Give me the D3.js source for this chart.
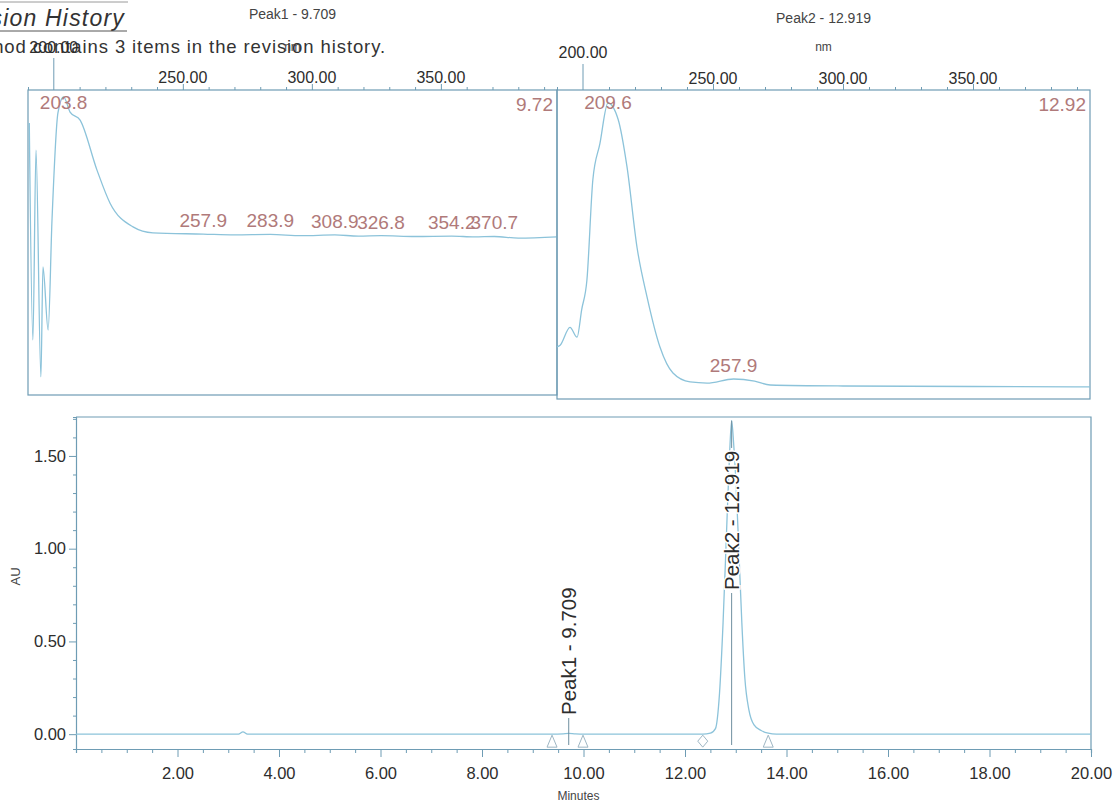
<!DOCTYPE html>
<html>
<head>
<meta charset="utf-8">
<script src="https://cdn.jsdelivr.net/npm/d3@7"></script>
<style>
  body { margin: 0; background: #fff; }
  svg { display: block; font-family: "Liberation Sans", Arial, sans-serif; }
</style>
</head>
<body>
<svg id="chart" width="1118" height="805"></svg>
<script>
// ---- Chromatogram (AU vs. minutes) ----
const chromTime = [0, 3.20, 3.29, 3.38, 9.40, 9.60, 9.709, 9.82, 10.00,
  12.35, 12.50, 12.60, 12.68, 12.75, 12.82, 12.88, 12.919, 12.96, 13.00,
  13.06, 13.12, 13.18, 13.26, 13.36, 13.50, 13.64, 13.80, 20.00];
const chromAU = [0, 0, 0.012, 0, 0, 0.002, 0.004, 0.002, 0,
  0, 0.005, 0.03, 0.22, 0.60, 1.10, 1.52, 1.69, 1.56, 1.38,
  1.00, 0.60, 0.30, 0.13, 0.05, 0.02, 0.005, 0, 0];

// Integrated peaks
const peakNames = ["Peak1", "Peak2"];
const peakRT = [9.709, 12.919];
const peakApexAU = [0.004, 1.69];

// Integration start / end marks on the baseline
const markTimes = [9.38, 9.99, 12.35, 13.64];
const markShapes = ["triangle", "triangle", "diamond", "triangle"];

const timeTicks = [2, 4, 6, 8, 10, 12, 14, 16, 18, 20];
const auTicks = [0, 0.5, 1.0, 1.5];

// ---- UV spectra at the two peak apexes ----
const spec1Nm = [190.5, 191.9, 193.1, 195.0, 195.8, 197.8, 199.3, 201.6, 203.8, 206.3,
  210.2, 216.7, 221.8, 230.7, 238.4, 257.9, 270, 283.9, 296, 308.9, 318, 326.8,
  340, 354.2, 363, 370.7, 380, 395];
const spec1MilliAU = [2.78, -2.63, 2.10, -3.55, -0.81, -2.38, 0.36, 3.03, 3.43, 3.05,
  2.85, 1.61, 0.78, 0.19, 0.04, 0.01, -0.01, 0.00, -0.03, -0.01, -0.04, -0.03,
  -0.05, -0.04, -0.06, -0.05, -0.09, -0.06];
const spec1Maxima = [203.8, 257.9, 283.9, 308.9, 326.8, 354.2, 370.7];

const spec2Nm = [190.0, 191.2, 195.0, 197.7, 199.5, 201.5, 203.8, 206.5, 209.6, 213.5,
  216.9, 220.8, 224.6, 229.6, 234.6, 241.2, 247.7, 257.9, 266, 272, 300, 350, 395];
const spec2AU = [0.27, 0.28, 0.39, 0.33, 0.50, 0.68, 1.30, 1.52, 1.77, 1.67,
  1.38, 0.88, 0.58, 0.27, 0.11, 0.055, 0.048, 0.073, 0.06, 0.036, 0.03, 0.027, 0.024];
const spec2Maxima = [209.6, 257.9];

const specTitles = ["Peak1 - 9.709", "Peak2 - 12.919"];
const specRT = ["9.72", "12.92"];
const nmTicks = [200, 250, 300, 350];

// ---- styling ----
const FRAME = "#6e9cb4";
const TRACE = "#8cc3da";
const MAXLBL = "#b07a7a";
const TEXT = "#2d2d2d";

const svg = d3.select("#chart");

// ---- report header (partially cut at the page edge) ----
svg.append("line").attr("x1", 0).attr("x2", 128).attr("y1", 2).attr("y2", 2)
  .attr("stroke", "#9a9a9a").attr("stroke-width", 1);
svg.append("text").attr("x", 125).attr("y", 26).attr("text-anchor", "end")
  .attr("font-size", 23).attr("font-style", "italic").attr("letter-spacing", 1.2)
  .attr("fill", "#333").text("Revision History");
svg.append("line").attr("x1", 0).attr("x2", 127).attr("y1", 31).attr("y2", 31)
  .attr("stroke", "#555").attr("stroke-width", 1);
svg.append("text").attr("x", 386).attr("y", 53).attr("text-anchor", "end")
  .attr("font-size", 18.5).attr("letter-spacing", 0.9).attr("fill", "#333")
  .text("This method contains 3 items in the revision history.");

// ---- spectrum panels ----
function drawSpectrum(cfg) {
  const g = svg.append("g");
  const x = d3.scaleLinear().domain([190, 395]).range([cfg.x0, cfg.x1]);
  const y = d3.scaleLinear().domain(cfg.yDomain).range([cfg.y1, cfg.y0]);

  // frame
  g.append("rect").attr("x", cfg.x0).attr("y", cfg.y0)
    .attr("width", cfg.x1 - cfg.x0).attr("height", cfg.y1 - cfg.y0)
    .attr("fill", "none").attr("stroke", FRAME).attr("stroke-width", 1.2);

  // top axis: minor ticks every 10 nm, majors every 50 nm
  const minor = d3.range(190, 395, 10).filter(v => v % 50 !== 0);
  g.append("g").attr("transform", `translate(0,${cfg.y0})`)
    .call(d3.axisTop(x).tickValues(minor).tickSize(3).tickFormat(""))
    .call(a => a.select(".domain").remove())
    .call(a => a.selectAll("line").attr("stroke", FRAME));
  g.append("g").attr("transform", `translate(0,${cfg.y0})`)
    .call(d3.axisTop(x).tickValues(nmTicks.slice(1)).tickSize(6).tickFormat(""))
    .call(a => a.select(".domain").remove())
    .call(a => a.selectAll("line").attr("stroke", FRAME));
  // first major tick is drawn long, its label staggered on the upper row
  g.append("line").attr("x1", x(nmTicks[0])).attr("x2", x(nmTicks[0]))
    .attr("y1", cfg.y0).attr("y2", cfg.longTickTop)
    .attr("stroke", FRAME).attr("stroke-width", 1);
  g.selectAll("text.tk").data(nmTicks).join("text").attr("class", "tk")
    .attr("x", d => x(d)).attr("y", (d, i) => i === 0 ? cfg.upperRowY : cfg.lowerRowY)
    .attr("text-anchor", "middle").attr("font-size", 16).attr("fill", TEXT)
    .text(d => d3.format(".2f")(d));
  g.append("text").attr("x", (cfg.x0 + cfg.x1) / 2).attr("y", cfg.nmY)
    .attr("text-anchor", "middle").attr("font-size", 12).attr("fill", "#444").text("nm");
  g.append("text").attr("x", (cfg.x0 + cfg.x1) / 2).attr("y", cfg.titleY)
    .attr("text-anchor", "middle").attr("font-size", 14).attr("fill", "#444").text(cfg.title);

  // spectrum trace
  const line = d3.line().x((d, i) => x(cfg.nm[i])).y(d => y(d)).curve(d3.curveMonotoneX);
  g.append("path").attr("d", line(cfg.vals)).attr("fill", "none")
    .attr("stroke", TRACE).attr("stroke-width", 1.3);

  // maxima labels
  g.selectAll("text.mx").data(cfg.maxima).join("text").attr("class", "mx")
    .attr("x", d => x(d))
    .attr("y", d => Math.max(y(cfg.vals[cfg.nm.indexOf(d)]) - 7, cfg.y0 + 19))
    .attr("text-anchor", "middle").attr("font-size", 19).attr("fill", MAXLBL)
    .text(d => d.toFixed(1));

  // retention time of the spectrum
  g.append("text").attr("x", cfg.x1 - 4).attr("y", cfg.y0 + 21)
    .attr("text-anchor", "end").attr("font-size", 19).attr("fill", MAXLBL).text(cfg.rt);
}

drawSpectrum({
  x0: 28, x1: 557, y0: 90, y1: 395, yDomain: [-4.0, 3.6],
  nm: spec1Nm, vals: spec1MilliAU, maxima: spec1Maxima,
  title: specTitles[0], rt: specRT[0], titleY: 19,
  upperRowY: 53, lowerRowY: 83, nmY: 51, longTickTop: 58
});
drawSpectrum({
  x0: 557, x1: 1090, y0: 90, y1: 399, yDomain: [-0.05, 1.85],
  nm: spec2Nm, vals: spec2AU, maxima: spec2Maxima,
  title: specTitles[1], rt: specRT[1], titleY: 23,
  upperRowY: 58, lowerRowY: 84, nmY: 51, longTickTop: 64
});

// ---- chromatogram ----
const cx = d3.scaleLinear().domain([0, 20]).range([76, 1091]);
const cy = d3.scaleLinear().domain([-0.08, 1.71]).range([749, 417]);
const cg = svg.append("g");

// frame (top / right)
cg.append("path")
  .attr("d", `M${cx(0)},${cy(1.71)}H${cx(20)}V${cy(-0.08)}`)
  .attr("fill", "none").attr("stroke", FRAME).attr("stroke-width", 1.2);

// x axis
cg.append("g").attr("transform", `translate(0,${cy(-0.08)})`)
  .call(d3.axisBottom(cx).tickValues(d3.range(0.5, 20, 0.5).filter(v => v % 2 !== 0))
    .tickSize(4).tickFormat(""))
  .call(a => a.select(".domain").attr("stroke", FRAME).attr("stroke-width", 1.2))
  .call(a => a.selectAll("line").attr("stroke", FRAME));
cg.append("g").attr("transform", `translate(0,${cy(-0.08)})`)
  .call(d3.axisBottom(cx).tickValues(timeTicks).tickSize(8).tickPadding(10)
    .tickFormat(d3.format(".2f")))
  .call(a => a.select(".domain").remove())
  .call(a => a.selectAll("line").attr("stroke", FRAME))
  .call(a => a.selectAll("text").attr("font-size", 16.5).attr("fill", TEXT)
    .attr("font-family", "Liberation Sans, Arial, sans-serif"));
cg.append("text").attr("x", cx(9.9)).attr("y", 800).attr("text-anchor", "middle")
  .attr("font-size", 12).attr("fill", "#444").text("Minutes");

// y axis
cg.append("g").attr("transform", `translate(${cx(0)},0)`)
  .call(d3.axisLeft(cy).tickValues(d3.range(-0.0, 1.71, 0.1).filter(v => Math.abs(v * 2 - Math.round(v * 2)) > 1e-6))
    .tickSize(3).tickFormat(""))
  .call(a => a.select(".domain").attr("stroke", FRAME).attr("stroke-width", 1.2))
  .call(a => a.selectAll("line").attr("stroke", FRAME));
cg.append("g").attr("transform", `translate(${cx(0)},0)`)
  .call(d3.axisLeft(cy).tickValues(auTicks).tickSize(7).tickPadding(3)
    .tickFormat(d3.format(".2f")))
  .call(a => a.select(".domain").remove())
  .call(a => a.selectAll("line").attr("stroke", FRAME))
  .call(a => a.selectAll("text").attr("font-size", 16.5).attr("fill", TEXT)
    .attr("font-family", "Liberation Sans, Arial, sans-serif"));
cg.append("text").attr("transform", `translate(20,${cy(0.85)}) rotate(-90)`)
  .attr("text-anchor", "middle").attr("font-size", 13).attr("fill", "#444").text("AU");

// trace
const chromLine = d3.line().x((d, i) => cx(chromTime[i])).y(d => cy(d)).curve(d3.curveMonotoneX);
cg.append("path").attr("d", chromLine(chromAU)).attr("fill", "none")
  .attr("stroke", TRACE).attr("stroke-width", 1.3);

// integration marks
cg.selectAll("path.mark").data(markTimes).join("path").attr("class", "mark")
  .attr("d", (t, i) => {
    const px = cx(t), py = cy(0);
    return markShapes[i] === "diamond"
      ? `M${px},${py + 1}L${px + 5},${py + 7}L${px},${py + 13}L${px - 5},${py + 7}Z`
      : `M${px},${py + 1}L${px + 5},${py + 13}L${px - 5},${py + 13}Z`;
  })
  .attr("fill", "none").attr("stroke", "#9fb7c4").attr("stroke-width", 1);

// peak labels with drop lines; a white halo keeps the label readable over the trace
const labelBottom = [715, 590];
peakNames.forEach((name, i) => {
  const px = cx(peakRT[i]);
  const txt = cg.append("text")
    .attr("transform", `translate(${px},${labelBottom[i]}) rotate(-90)`)
    .attr("dy", "0.36em").attr("font-size", 20.5).attr("fill", TEXT)
    .attr("stroke", "#fff").attr("stroke-width", 3).attr("paint-order", "stroke")
    .text(`${name} - ${peakRT[i].toFixed(3)}`);
  const len = txt.node().getComputedTextLength();
  const top = labelBottom[i] - len;
  cg.append("line").attr("x1", px).attr("x2", px)
    .attr("y1", cy(-0.08) - 4).attr("y2", labelBottom[i] + 3)
    .attr("stroke", "#6f8f9f").attr("stroke-width", 1);
  if (cy(peakApexAU[i]) < top - 3) {
    cg.append("line").attr("x1", px).attr("x2", px)
      .attr("y1", top - 3).attr("y2", cy(peakApexAU[i]))
      .attr("stroke", "#6f8f9f").attr("stroke-width", 1);
  }
});
</script>
</body>
</html>
